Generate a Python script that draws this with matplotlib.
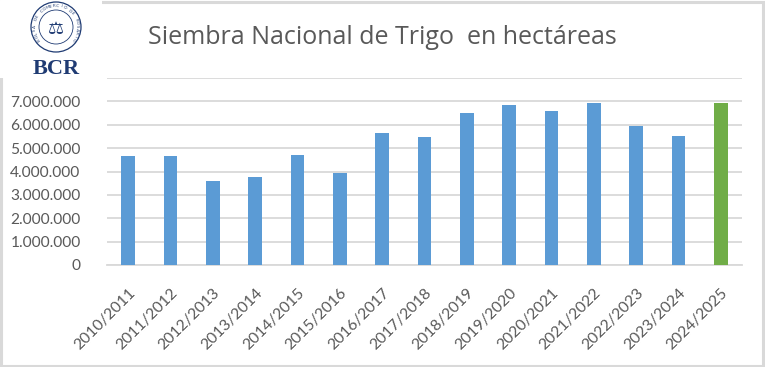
import numpy as np
import matplotlib
matplotlib.use('Agg')
import matplotlib.pyplot as plt
from matplotlib.patches import Rectangle, Circle

# ── Data ──────────────────────────────────────────────────────────────────────
campaigns = ['2010/2011', '2011/2012', '2012/2013', '2013/2014', '2014/2015',
             '2015/2016', '2016/2017', '2017/2018', '2018/2019', '2019/2020',
             '2020/2021', '2021/2022', '2022/2023', '2023/2024', '2024/2025']
hectares = [4660000, 4660000, 3590000, 3760000, 4700000,
            3930000, 5650000, 5480000, 6510000, 6860000,
            6600000, 6940000, 5950000, 5520000, 6940000]
y_ticks = [0, 1000000, 2000000, 3000000, 4000000, 5000000, 6000000, 7000000, 8000000]
title = 'Siembra Nacional de Trigo  en hectáreas'

BLUE, GREEN = '#5B9BD5', '#70AD47'
GRID, TXT = '#D9D9D9', '#595959'
plt.rcParams['font.family'] = ['Lato', 'DejaVu Sans']

W, H = 765, 367
fig = plt.figure(figsize=(W / 100, H / 100), dpi=100)
ax = fig.add_axes([107 / W, 1 - 265 / H, (742 - 107) / W, (265 - 78) / H])

x = np.arange(len(campaigns))
colors = [BLUE] * (len(campaigns) - 1) + [GREEN]
ax.bar(x, hectares, width=0.33, color=colors, zorder=3)

ax.set_xlim(-0.5, len(campaigns) - 0.5)
ax.set_ylim(0, 8000000)
ax.set_yticks(y_ticks)
# 8.000.000 label sits under the logo in the original, so it is left blank
ax.set_yticklabels([f'{v:,}'.replace(',', '.') if v < 8000000 else '' for v in y_ticks],
                   fontsize=11.2)
ax.yaxis.grid(True, color=GRID, lw=1.3, zorder=0)
ax.set_xticks(x)
ax.set_xticklabels(campaigns, rotation=45, ha='right', rotation_mode='anchor',
                   fontsize=11.3)
for s in ['top', 'right', 'left']:
    ax.spines[s].set_visible(False)
ax.spines['bottom'].set_color(GRID)
ax.spines['bottom'].set_linewidth(1.3)
ax.tick_params(axis='both', length=0, colors=TXT)
ax.tick_params(axis='y', pad=19)
ax.tick_params(axis='x', pad=15)

fig.text(382 / W, 1 - 38 / H, title, ha='center', va='center',
         fontsize=18, color=TXT, family=['Open Sans', 'DejaVu Sans'])

# outer chart border
fig.patches.append(Rectangle((1 / W, 1 / H), (W - 3) / W, (H - 3) / H,
                             transform=fig.transFigure, fill=False,
                             ec=GRID, lw=2.2, zorder=0))

# ── Logo (white box over the top-left corner) ────────────────────────────────
NAVY = '#1F3B73'
lax = fig.add_axes([0, 1 - 78 / H, 102 / W, 78 / H], zorder=5)
lax.set_xlim(0, 102); lax.set_ylim(78, 0)
lax.set_facecolor('white'); lax.axis('off')
lax.add_patch(Rectangle((0, 0), 102, 78, color='white', zorder=0))
lax.add_patch(Circle((56, 27), 25, fill=False, ec=NAVY, lw=0.9))
lax.add_patch(Circle((56, 27), 17, fill=False, ec=NAVY, lw=0.6))
ring = 'BOLSA DE COMERCIO DE ROSARIO'
angs = np.linspace(215, -35, len(ring))
for ch, a in zip(ring, angs):
    r = np.deg2rad(a)
    lax.text(56 + 21 * np.cos(r), 27 - 21 * np.sin(r), ch, fontsize=3.2,
             color=NAVY, ha='center', va='center', rotation=a - 90)
lax.text(56, 29, '⚖', fontsize=13, color=NAVY, ha='center', va='center',
         family=['DejaVu Sans'])
lax.text(56, 68.5, 'BCR', fontsize=16, color=NAVY, ha='center', va='center',
         weight='bold', family=['Liberation Serif', 'DejaVu Serif'])

fig.savefig('out.png', dpi=100)
